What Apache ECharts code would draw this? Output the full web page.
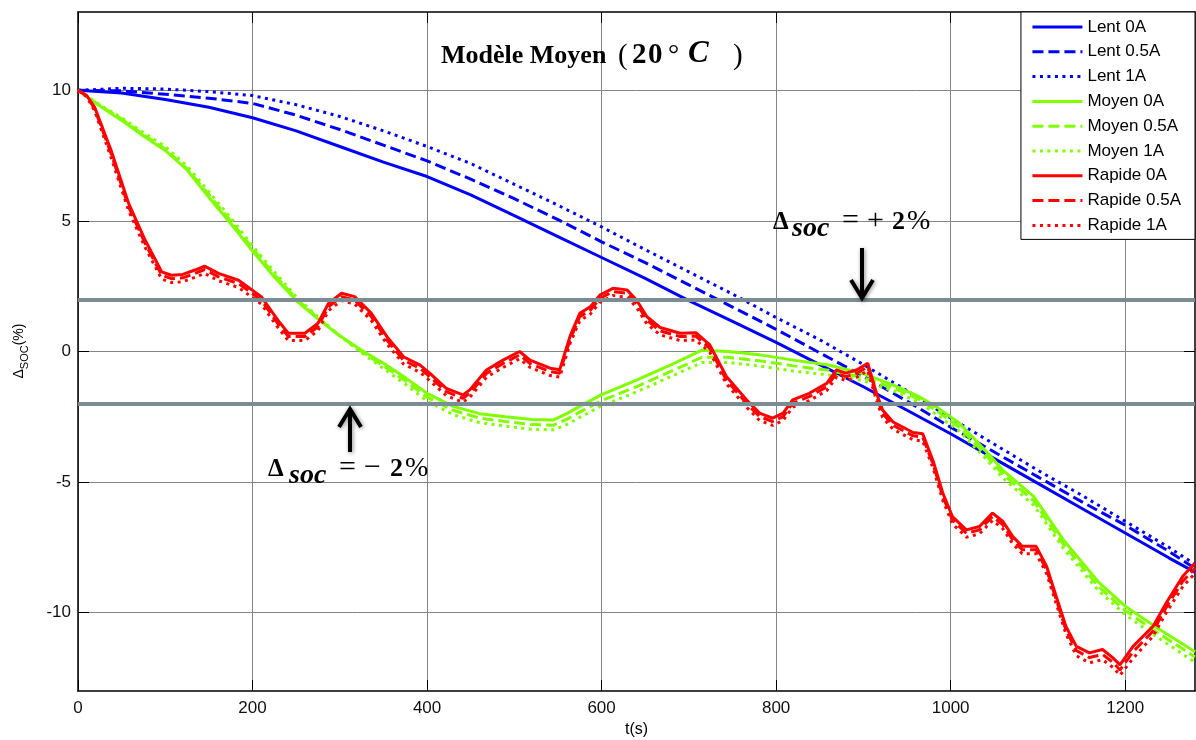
<!DOCTYPE html>
<html><head><meta charset="utf-8">
<script src="https://cdn.jsdelivr.net/npm/echarts@6/dist/echarts.min.js"></script>
<style>html,body{margin:0;padding:0;background:#fff}#c{width:1196px;height:740px}</style>
</head><body><div id="c"></div>
<script>
// ---- data ----
const xTicks = [0, 200, 400, 600, 800, 1000, 1200];
const yTicks = [-10, -5, 0, 5, 10];
const thresholds = [2, -2];

const lentT = [0,50,100,150,200,250,300,350,400,450,500,550,600,650,700,750,800,850,900,950,1000,1050,1100,1150,1200,1250,1280];
const lent0  = [10,9.9,9.65,9.35,8.95,8.45,7.85,7.25,6.7,6.0,5.2,4.4,3.6,2.8,1.95,1.15,0.35,-0.5,-1.35,-2.25,-3.15,-4.1,-5.05,-6.0,-6.95,-7.9,-8.45];
const lent05 = [10,9.98,9.85,9.7,9.5,9.05,8.5,7.9,7.3,6.6,5.85,5.05,4.2,3.4,2.55,1.7,0.85,-0.05,-0.95,-1.9,-2.9,-3.85,-4.8,-5.75,-6.65,-7.65,-8.3];
const lent1  = [10,10.08,10.05,9.95,9.8,9.45,9.0,8.45,7.85,7.2,6.4,5.6,4.77,3.9,3.05,2.2,1.3,0.45,-0.5,-1.5,-2.55,-3.55,-4.55,-5.5,-6.5,-7.5,-8.15];

const moyenT = [0,25,50,75,100,125,150,175,200,225,
  250,275,300,325,350,375,400,430,460,490,
  520,545,560,575,600,640,680,715,745,780,
  820,860,900,935,965,985,1010,1040,1060,1095,
  1130,1170,1200,1235,1280];
const moyen0 = [10,9.4,8.85,8.25,7.7,6.95,5.9,4.9,3.85,2.85,
  1.95,1.25,0.6,0.05,-0.45,-1.0,-1.6,-2.1,-2.38,-2.5,
  -2.6,-2.62,-2.38,-2.1,-1.65,-1.1,-0.5,0.05,0.0,-0.12,
  -0.33,-0.52,-0.85,-1.3,-1.75,-2.15,-2.75,-3.8,-4.55,-5.55,
  -7.25,-8.85,-9.75,-10.55,-11.5];
const moyen05 = [10,9.42,8.9,8.3,7.75,7.0,6.0,5.0,3.95,2.95,
  2.02,1.28,0.6,0.0,-0.55,-1.12,-1.75,-2.25,-2.55,-2.68,
  -2.8,-2.82,-2.6,-2.32,-1.88,-1.35,-0.75,-0.22,-0.22,-0.35,
  -0.55,-0.72,-1.0,-1.4,-1.85,-2.3,-2.9,-3.95,-4.7,-5.72,
  -7.42,-9.02,-9.92,-10.72,-11.7];
const moyen1 = [10,9.45,8.95,8.38,7.85,7.1,6.12,5.12,4.05,3.05,
  2.1,1.32,0.6,-0.05,-0.65,-1.25,-1.9,-2.42,-2.72,-2.86,
  -2.98,-3.0,-2.8,-2.52,-2.08,-1.55,-0.95,-0.42,-0.42,-0.55,
  -0.75,-0.9,-1.12,-1.52,-1.97,-2.45,-3.05,-4.1,-4.85,-5.88,
  -7.58,-9.18,-10.08,-10.9,-11.9];

const rapideT = [0,10,19,38,58,77,96,107,120,134,
  145,161,184,210,229,241,260,275,287,302,
  317,336,354,373,392,403,422,441,449,468,
  487,506,518,541,552,564,575,587,598,613,
  629,640,652,667,690,708,724,743,766,781,
  796,808,819,838,858,869,880,892,905,915,
  922,934,957,968,980,991,1002,1018,1033,1048,
  1060,1071,1082,1098,1110,1121,1132,1144,1159,1174,
  1186,1194,1209,1232,1247,1266,1280];
const rapide0 = [10,9.8,9.36,7.7,5.67,4.26,3.05,2.92,2.95,3.12,
  3.27,2.99,2.73,2.1,1.2,0.7,0.7,1.08,1.84,2.23,
  2.1,1.47,0.57,-0.2,-0.52,-0.83,-1.41,-1.66,-1.47,-0.71,
  -0.33,0.0,-0.33,-0.64,-0.7,0.6,1.46,1.71,2.16,2.42,
  2.36,1.97,1.33,0.92,0.7,0.72,0.25,-0.96,-1.85,-2.36,
  -2.55,-2.36,-1.85,-1.6,-1.22,-0.71,-0.83,-0.71,-0.45,-1.6,
  -2.24,-2.7,-3.1,-3.15,-4.2,-5.42,-6.32,-6.83,-6.7,-6.19,
  -6.51,-7.08,-7.46,-7.46,-8.23,-9.38,-10.52,-11.29,-11.54,-11.41,
  -11.73,-12.0,-11.29,-10.52,-9.63,-8.61,-8.1];
const rapide05 = [10,9.78,9.3,7.57,5.54,4.13,2.92,2.79,2.82,2.99,
  3.14,2.86,2.6,1.97,1.07,0.57,0.57,0.95,1.71,2.1,
  1.97,1.34,0.44,-0.33,-0.65,-0.96,-1.54,-1.79,-1.6,-0.84,
  -0.46,-0.13,-0.46,-0.77,-0.83,0.47,1.33,1.58,2.03,2.29,
  2.23,1.84,1.2,0.79,0.57,0.59,0.12,-1.09,-1.98,-2.49,
  -2.68,-2.49,-1.98,-1.73,-1.35,-0.84,-0.96,-0.84,-0.58,-1.73,
  -2.37,-2.83,-3.23,-3.28,-4.33,-5.55,-6.45,-6.96,-6.83,-6.32,
  -6.64,-7.21,-7.59,-7.59,-8.36,-9.51,-10.65,-11.45,-11.72,-11.6,
  -11.9,-12.2,-11.5,-10.7,-9.8,-8.8,-8.3];
const rapide1 = [10,9.75,9.22,7.42,5.39,3.98,2.77,2.64,2.67,2.84,
  2.99,2.71,2.45,1.82,0.92,0.42,0.42,0.8,1.56,1.95,
  1.82,1.19,0.29,-0.48,-0.8,-1.11,-1.69,-1.94,-1.75,-0.99,
  -0.61,-0.28,-0.61,-0.92,-0.98,0.32,1.18,1.43,1.88,2.14,
  2.08,1.69,1.05,0.64,0.42,0.44,-0.03,-1.24,-2.13,-2.64,
  -2.83,-2.64,-2.13,-1.88,-1.5,-0.99,-1.11,-0.99,-0.73,-1.88,
  -2.52,-2.98,-3.38,-3.43,-4.48,-5.7,-6.6,-7.11,-6.98,-6.47,
  -6.79,-7.36,-7.74,-7.74,-8.51,-9.66,-10.8,-11.65,-11.92,-11.8,
  -12.1,-12.4,-11.75,-10.9,-10.0,-9.0,-8.5];

const seriesNames = ['Lent 0A','Lent 0.5A','Lent 1A','Moyen 0A','Moyen 0.5A','Moyen 1A','Rapide 0A','Rapide 0.5A','Rapide 1A'];

// ---- build ----
const pairs = (t, v) => t.map((x, i) => [x, v[i]]);
const BLUE = '#0000ff', GREEN = '#80ff00', RED = '#ff0000';
const DASH = [11, 5], DOT = [3, 4.5];
const defs = [
  [lentT, lent0, BLUE, 'solid'], [lentT, lent05, BLUE, DASH], [lentT, lent1, BLUE, DOT],
  [moyenT, moyen0, GREEN, 'solid'], [moyenT, moyen05, GREEN, DASH], [moyenT, moyen1, GREEN, DOT],
  [rapideT, rapide0, RED, 'solid'], [rapideT, rapide05, RED, DASH], [rapideT, rapide1, RED, DOT]
];
const series = defs.map((d, i) => ({
  name: seriesNames[i], type: 'line', xAxisIndex: 0, yAxisIndex: 0,
  data: pairs(d[0], d[1]), symbol: 'none', showSymbol: false, smooth: false,
  color: d[2], lineStyle: { color: d[2], width: 3, type: d[3], cap: 'butt' }, z: 2
}));
series.push({
  name: 'seuil', type: 'line', data: [], xAxisIndex: 0, yAxisIndex: 0, z: 5,
  markLine: { silent: true, symbol: 'none', animation: false, label: { show: false },
    lineStyle: { color: '#7b8d94', width: 4, type: 'solid' },
    data: thresholds.map(v => ({ yAxis: v })) }
});

const SERIF = '"Liberation Serif", "DejaVu Serif", serif';
const SANS = '"Liberation Sans", Arial, sans-serif';
function txt(s, x, base, fs, weight, style, font) {
  return { type: 'text', x: x, y: base - 0.34 * fs, silent: true, z: 20,
    style: { text: s, fontSize: fs, fontWeight: weight || 'normal', fontStyle: style || 'normal',
      fontFamily: font || SERIF, fill: '#000', align: 'left', verticalAlign: 'middle' } };
}
function arrow(x, yTail, yTip) {
  const dir = yTip > yTail ? 1 : -1;
  const sh = { shadowBlur: 4, shadowColor: 'rgba(0,0,0,0.45)', shadowOffsetX: 1, shadowOffsetY: 1 };
  return [
    { type: 'line', silent: true, z: 20, shape: { x1: x, y1: yTail, x2: x, y2: yTip - dir * 2 },
      style: Object.assign({ stroke: '#000', lineWidth: 4 }, sh) },
    { type: 'polyline', silent: true, z: 20, shape: { points: [[x - 11, yTip - dir * 19], [x, yTip - dir * 1], [x + 11, yTip - dir * 19]] },
      style: Object.assign({ stroke: '#000', lineWidth: 4, fill: null, lineJoin: 'miter' }, sh) }
  ];
}
const graphics = [].concat(
  // title
  [txt('Modèle Moyen', 441, 65, 26, 'bold'),
   txt('(', 618, 66, 29, 'normal'), txt('2', 632, 65, 29, 'bold'), txt('0', 648, 65, 29, 'bold'),
   txt('°', 668, 65, 28, 'normal'), txt('C', 688, 65, 31, 'bold', 'italic'), txt(')', 733, 66, 29, 'normal')],
  // -2% annotation
  [txt('Δ', 268, 478, 25, 'bold'), txt('soc', 289, 485, 28, 'bold', 'italic'),
   txt('=', 339, 478, 30, 'normal'), txt('−', 364, 478, 30, 'normal'),
   txt('2', 390, 478, 26, 'bold'), txt('%', 405, 478, 28, 'normal')],
  arrow(350, 452, 408),
  // +2% annotation
  [txt('Δ', 773, 231.5, 25, 'bold'), txt('soc', 792, 238.5, 28, 'bold', 'italic'),
   txt('=', 842, 231.5, 30, 'normal'), txt('+', 867, 231.5, 30, 'normal'),
   txt('2', 892, 231.5, 26, 'bold'), txt('%', 907, 231.5, 28, 'normal')],
  arrow(862, 248, 299),
  // y axis name
  [{ type: 'text', x: 21, y: 351, rotation: Math.PI / 2, silent: true, z: 20,
     style: { text: '{d|Δ}{s|SOC}{p|(%)}', align: 'center', verticalAlign: 'middle', fill: '#000',
       rich: { d: { fontSize: 14, fontFamily: SANS, verticalAlign: 'bottom', padding: [0, 0, 4, 0] },
               s: { fontSize: 11, fontFamily: SANS, verticalAlign: 'bottom' },
               p: { fontSize: 14, fontFamily: SANS, verticalAlign: 'bottom', padding: [0, 0, 4, 0] } } } }]
);

const GRID_COLOR = '#858585';
const plain = v => String(v);
const option = {
  animation: false,
  backgroundColor: '#fff',
  grid: { left: 78, top: 12, width: 1117, height: 679, containLabel: false, outerBoundsMode: 'none' },
  legend: {
    data: seriesNames, orient: 'vertical', right: 1, top: 12,
    backgroundColor: '#fff', borderColor: '#000', borderWidth: 1, borderRadius: 0,
    padding: [6, 14, 5, 10], itemWidth: 50, itemHeight: 18, itemGap: 6.8, itemTextGap: 6,
    itemStyle: { opacity: 0, borderWidth: 0 },
    lineStyle: { width: 3 },
    textStyle: { fontSize: 17, lineHeight: 18, fontFamily: SANS, color: '#000' },
    selectedMode: false, z: 10
  },
  xAxis: [{
    type: 'value', min: 0, max: 1280, position: 'bottom',
    name: 't(s)', nameLocation: 'middle', nameGap: 31,
    nameTextStyle: { fontSize: 16, fontFamily: SANS, color: '#000' },
    axisLine: { show: true, onZero: false, lineStyle: { color: '#000', width: 1.5 } },
    axisTick: { show: true, inside: true, length: 11, customValues: xTicks, lineStyle: { color: '#000', width: 1 } },
    axisLabel: { customValues: xTicks, formatter: plain, margin: 9, fontSize: 17, fontFamily: SANS, color: '#111' },
    splitLine: { show: true, lineStyle: { color: GRID_COLOR, width: 1 } }
  }, {
    type: 'value', min: 0, max: 1280, position: 'top',
    axisLine: { show: true, onZero: false, lineStyle: { color: '#000', width: 1.5 } },
    axisTick: { show: true, inside: true, length: 11, customValues: xTicks, lineStyle: { color: '#000', width: 1 } },
    axisLabel: { show: false }, splitLine: { show: false }
  }],
  yAxis: [{
    type: 'value', min: -13, max: 13, position: 'left',
    axisLine: { show: true, onZero: false, lineStyle: { color: '#000', width: 1.5 } },
    axisTick: { show: true, inside: true, length: 11, customValues: yTicks, lineStyle: { color: '#000', width: 1 } },
    axisLabel: { customValues: yTicks, formatter: plain, margin: 7, fontSize: 17, fontFamily: SANS, color: '#111' },
    splitLine: { show: true, lineStyle: { color: GRID_COLOR, width: 1 } }
  }, {
    type: 'value', min: -13, max: 13, position: 'right',
    axisLine: { show: true, onZero: false, lineStyle: { color: '#000', width: 1.5 } },
    axisTick: { show: true, inside: true, length: 11, customValues: yTicks, lineStyle: { color: '#000', width: 1 } },
    axisLabel: { show: false }, splitLine: { show: false }
  }],
  series: series,
  graphic: graphics
};
const chart = echarts.init(document.getElementById('c'), null, { renderer: 'canvas' });
chart.setOption(option);
</script></body></html>
